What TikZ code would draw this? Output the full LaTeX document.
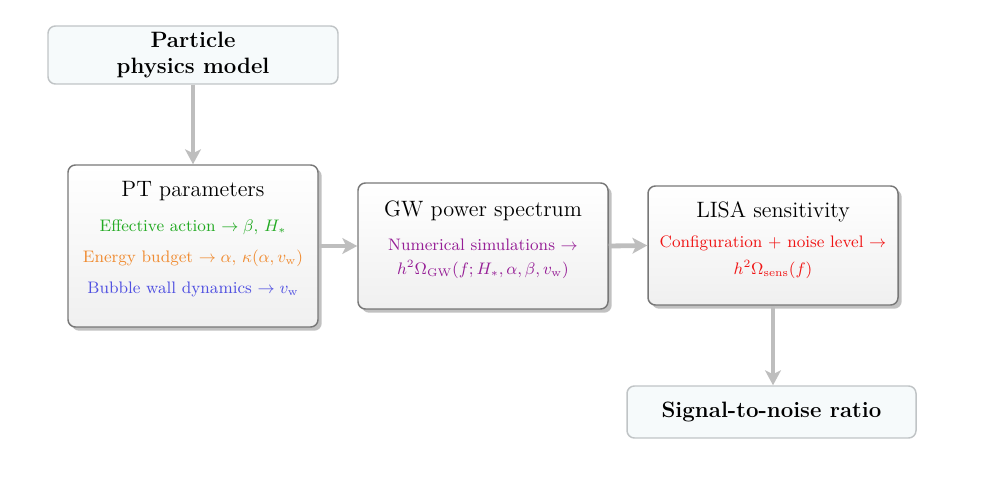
\documentclass[tikz,border=0pt]{standalone}
\usetikzlibrary{arrows.meta,shadows}
\definecolor{cgreen}{RGB}{34,170,34}
\definecolor{corange}{RGB}{240,140,50}
\definecolor{cblue}{RGB}{80,80,225}
\definecolor{cpurple}{RGB}{150,30,150}
\definecolor{cred}{RGB}{240,20,20}
\definecolor{lightbox}{RGB}{246,250,251}
\definecolor{lightborder}{RGB}{192,196,198}
\definecolor{darkborder}{RGB}{120,120,120}
\definecolor{arrowgray}{RGB}{190,190,190}
\tikzset{
  lightnode/.style={draw=lightborder, line width=0.8pt, fill=lightbox, rounded corners=4pt,
    align=center, font=\large\bfseries, inner sep=0pt},
  mainnode/.style={draw=darkborder, line width=0.8pt, rounded corners=4pt, top color=white,
    bottom color=black!6, inner sep=0pt,
    drop shadow={shadow xshift=2pt, shadow yshift=-2pt, fill=black!30, opacity=0.8}},
  titletext/.style={anchor=base, inner sep=0pt, font=\large},
  itemtext/.style={anchor=base, inner sep=0pt, font=\small},
  flow/.style={draw=arrowgray, line width=2.6pt, -{Stealth[length=8pt,width=8.5pt,inset=2pt]}}
}
\begin{document}
\begin{tikzpicture}[x=0.54pt,y=-0.54pt]
\useasboundingbox (0,0) rectangle (1002,492);
\node[lightnode, minimum width=290*0.54pt, minimum height=58*0.54pt] (ppm) at (193,55)
  {Particle\\physics model};
% PT parameters
\node[mainnode, minimum width=250*0.54pt, minimum height=162*0.54pt] (pt) at (193,246) {};
\node[titletext] (pttitle) at (193,197) {PT parameters};
\node[itemtext, text=cgreen] (pt1) at (193,232) {Effective action $\to \beta,\, H_*$};
\node[itemtext, text=corange] (pt2) at (193,263) {Energy budget $\to \alpha,\, \kappa(\alpha, v_{\rm w})$};
\node[itemtext, text=cblue] (pt3) at (193,294) {Bubble wall dynamics $\to v_{\rm w}$};
% GW power spectrum
\node[mainnode, minimum width=250*0.54pt, minimum height=126*0.54pt] (gw) at (483,246) {};
\node[titletext] (gwtitle) at (483,217) {GW power spectrum};
\node[itemtext, text=cpurple] (gw1) at (483,251) {Numerical simulations $\to$};
\node[itemtext, text=cpurple] (gw2) at (483,275) {$h^2\Omega_{\rm GW}(f;H_*,\alpha,\beta,v_{\rm w})$};
% LISA sensitivity
\node[mainnode, minimum width=250*0.54pt, minimum height=119*0.54pt] (lisa) at (773,245.5) {};
\node[titletext] (lisatitle) at (773,218) {LISA sensitivity};
\node[itemtext, text=cred] (lisa1) at (773,248) {Configuration $+$ noise level $\to$};
\node[itemtext, text=cred] (lisa2) at (773,275) {$h^2\Omega_{\rm sens}(f)$};
% SNR
\node[lightnode, minimum width=289*0.54pt, minimum height=52*0.54pt] (snr) at (771.5,412)
  {Signal-to-noise ratio};
\draw[flow] (ppm.south) -- (pt.north);
\draw[flow] (pt.east) -- (gw.west);
\draw[flow] (gw.east) -- (lisa.west);
\draw[flow] (lisa.south) -- (lisa.south |- snr.north);
\end{tikzpicture}
\end{document}
